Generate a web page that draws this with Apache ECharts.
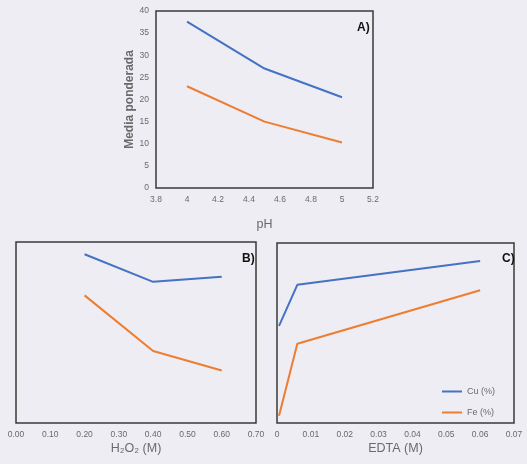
<!DOCTYPE html>
<html><head><meta charset="utf-8">
<script src="https://cdn.jsdelivr.net/npm/echarts@6/dist/echarts.min.js"></script>
<style>html,body{margin:0;padding:0;background:#eeedf3;}#c{width:527px;height:464px;}</style>
</head><body><div id="c"></div>
<script>
// Panel A: pH
const phX = [4, 4.5, 5];
const phCu = [37.6, 27.0, 20.5];
const phFe = [23.0, 15.0, 10.3];
// Panel B: H2O2 (M)
const h2o2X = [0.2, 0.4, 0.6];
const h2o2Cu = [37.3, 31.2, 32.3];
const h2o2Fe = [28.2, 15.9, 11.6];
// Panel C: EDTA (M)
const edtaX = [0.0006, 0.006, 0.06];
const edtaCu = [21.6, 30.7, 36.0];
const edtaFe = [1.6, 17.6, 29.5];

const BLUE = '#4472c4', ORANGE = '#ed7d31';
const FONT = '"Liberation Sans Narrow","Liberation Sans",Arial,sans-serif';
const pairs = (xs, ys) => xs.map((x, i) => [x, ys[i]]);

const chart = echarts.init(document.getElementById('c'));
const gridBase = {show: true, borderColor: '#3a3a3a', borderWidth: 1.5, backgroundColor: 'transparent'};
const lbl = {color: '#6a6a6a', fontSize: 8.5, fontFamily: FONT};
function xAx(idx, min, max, interval, name, gap, fmt) {
  return {type: 'value', gridIndex: idx, min, max, interval,
    axisLine: {show: false}, axisTick: {show: false}, splitLine: {show: false},
    axisLabel: Object.assign({margin: 7, formatter: fmt}, lbl),
    name, nameLocation: 'middle', nameGap: gap,
    nameTextStyle: {color: '#6a6a6a', fontSize: 12.5, fontFamily: FONT}};
}
function yAx(idx, showLabel, name) {
  return {type: 'value', gridIndex: idx, min: 0, max: 40, interval: 5,
    axisLabel: Object.assign({show: showLabel, margin: 7}, lbl),
    axisLine: {show: false}, axisTick: {show: false}, splitLine: {show: false},
    name: name || '', nameLocation: 'middle', nameGap: 20,
    nameTextStyle: {color: '#6a6a6a', fontSize: 12, fontWeight: 'bold', fontFamily: FONT}};
}
function line(name, xi, xs, ys, color) {
  return {type: 'line', name, xAxisIndex: xi, yAxisIndex: xi, data: pairs(xs, ys),
    showSymbol: false, symbol: 'none', lineStyle: {color, width: 2}, itemStyle: {color}};
}
chart.setOption({
  backgroundColor: '#eeedf3',
  animation: false,
  grid: [
    Object.assign({left: 156, top: 11, width: 217, height: 177}, gridBase),
    Object.assign({left: 16, top: 242, width: 240, height: 181}, gridBase),
    Object.assign({left: 277, top: 243, width: 237, height: 180}, gridBase)
  ],
  xAxis: [
    xAx(0, 3.8, 5.2, 0.2, 'pH', 30, v => String(Number(v.toFixed(1)))),
    xAx(1, 0, 0.7, 0.1, 'H\u2082O\u2082 (M)', 19, v => v.toFixed(2)),
    xAx(2, 0, 0.07, 0.01, 'EDTA (M)', 19, v => v === 0 ? '0' : v.toFixed(2))
  ],
  yAxis: [yAx(0, true, 'Media ponderada'), yAx(1, false), yAx(2, false)],
  title: [
    {text: 'A)', left: 352, top: 17, textStyle: {fontSize: 12, fontWeight: 'bold', color: '#111', fontFamily: FONT}},
    {text: 'B)', left: 237, top: 248, textStyle: {fontSize: 12, fontWeight: 'bold', color: '#111', fontFamily: FONT}},
    {text: 'C)', left: 497, top: 248, textStyle: {fontSize: 12, fontWeight: 'bold', color: '#111', fontFamily: FONT}}
  ],
  legend: {data: ['Cu (%)', 'Fe (%)'], orient: 'vertical', left: 437, top: 382,
    itemWidth: 20, itemHeight: 2, itemGap: 12, icon: 'rect',
    textStyle: {color: '#6a6a6a', fontSize: 9, fontFamily: FONT}},
  series: [
    line('Cu (%)', 0, phX, phCu, BLUE), line('Fe (%)', 0, phX, phFe, ORANGE),
    line('Cu (%)', 1, h2o2X, h2o2Cu, BLUE), line('Fe (%)', 1, h2o2X, h2o2Fe, ORANGE),
    line('Cu (%)', 2, edtaX, edtaCu, BLUE), line('Fe (%)', 2, edtaX, edtaFe, ORANGE)
  ]
});
</script></body></html>
